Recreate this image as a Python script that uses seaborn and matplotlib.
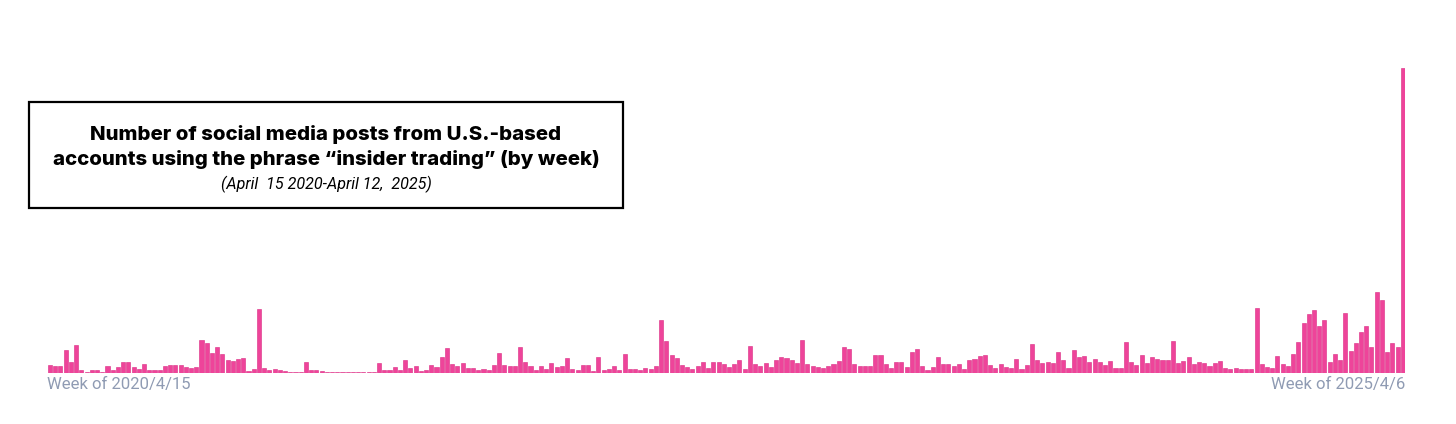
import pandas as pd
import seaborn as sns
import matplotlib.pyplot as plt
from matplotlib.patches import Rectangle

# weekly post counts (relative units)
posts = [8, 7, 7, 23, 11, 28, 3, 1.5, 3.5, 3,
         1.5, 7, 3.5, 6, 11, 11, 6, 4, 9, 3,
         3.5, 3, 7, 8, 8, 8, 6, 5, 6, 33,
         30, 20, 26, 19, 13, 12, 14, 15, 2, 4,
         64, 5, 3, 4, 3, 2, 1.5, 1, 1, 11,
         3.5, 3.5, 2, 1.5, 1.5, 1.5, 1.5, 1, 1, 1,
         1.5, 1, 1, 10, 3.5, 3.5, 6, 3, 13, 5,
         7, 2.5, 3, 8, 6, 16, 25, 9, 7.5, 10,
         5, 5, 3.5, 4.5, 3, 8, 20, 8, 7, 7,
         26, 11, 7, 3, 7, 4, 10, 6, 7, 15,
         4, 3.5, 8, 8.5, 2, 16, 3, 4, 7.5, 3.5,
         19, 4, 4, 3.5, 5, 4, 7, 53, 32, 18,
         15, 8, 6, 4, 7, 11, 5, 11, 11, 9.5,
         6, 9, 13.5, 4, 27, 9, 7, 10, 6, 13,
         16, 15, 13, 10, 33, 9, 7, 6, 5, 7,
         9, 12.5, 26, 24, 9, 7, 7, 7.5, 18, 18,
         9, 5, 11, 11, 6, 21, 24, 7, 3.5, 6,
         16, 9, 9, 7, 9, 4.5, 13, 14, 17, 18,
         8.5, 5, 9, 6, 5.5, 14, 4.5, 8.5, 29.5, 13,
         10.5, 11.5, 10, 21, 13.5, 5.5, 23, 16, 17.5, 11,
         14.5, 11.5, 8.5, 12, 5, 5, 31, 11, 8, 18.5,
         10.5, 16, 14, 13, 13, 31.7, 10, 11.7, 15.7, 9,
         11, 10.3, 6.7, 10.3, 12.3, 4.7, 4, 5.3, 3.7, 3.7,
         3.7, 65, 9, 6.3, 4.7, 16.7, 8.7, 6.7, 18.7, 30.7,
         50.3, 59.3, 62.7, 47, 53.3, 10.7, 19.3, 13.3, 60, 22,
         30, 41, 47, 26.3, 81.3, 73.3, 21, 29.7, 26.3, 305]
posts = [p * 10 for p in posts]
weeks = [d.strftime('%Y-%m-%d') for d in
         pd.date_range('2020-04-15', periods=len(posts), freq='7D')]

first_label = 'Week of 2020/4/15'
last_label = 'Week of 2025/4/6'
title = 'Number of social media posts from U.S.-based\naccounts using the phrase \u201cinsider trading\u201d (by week)'
subtitle = '(April  15 2020-April 12,  2025)'

sns.set_theme(style='white')
plt.rcParams['font.family'] = ['Roboto', 'DejaVu Sans']

fig = plt.figure(figsize=(14.56, 4.24), dpi=100)
ax = fig.add_axes([47.4 / 1456, 51 / 424, 1358 / 1456, 305 / 424])

df = pd.DataFrame({'week': weeks, 'posts': posts})
sns.barplot(data=df, x='week', y='posts', color='#EE449A', saturation=1,
            width=0.78, edgecolor='#DB2A82', linewidth=0.4, ax=ax)

ax.set_ylim(0, max(posts))
ax.set_xlim(-0.5, len(posts) - 0.5)
ax.set_xticks([])
ax.set_yticks([])
ax.set_xlabel('')
ax.set_ylabel('')
sns.despine(ax=ax, left=True, bottom=True)

ax.text(0, -0.012, first_label, transform=ax.transAxes, ha='left', va='top',
        fontsize=12, color='#8F9BB3')
ax.text(1, -0.012, last_label, transform=ax.transAxes, ha='right', va='top',
        fontsize=12, color='#8F9BB3')

# title box
fig.patches.append(Rectangle((29 / 1456, 1 - 208 / 424), 594 / 1456, 106 / 424,
                             transform=fig.transFigure, fill=False,
                             edgecolor='black', linewidth=1.6))
fig.text(326 / 1456, 1 - 147 / 424, title, ha='center', va='center',
         fontsize=14.7, fontweight='heavy', linespacing=1.38,
         family=['Inter', 'DejaVu Sans'], color='black')
fig.text(326 / 1456, 1 - 184 / 424, subtitle, ha='center', va='center',
         fontsize=11.6, style='italic', color='black')

fig.savefig('out.png', dpi=100)
